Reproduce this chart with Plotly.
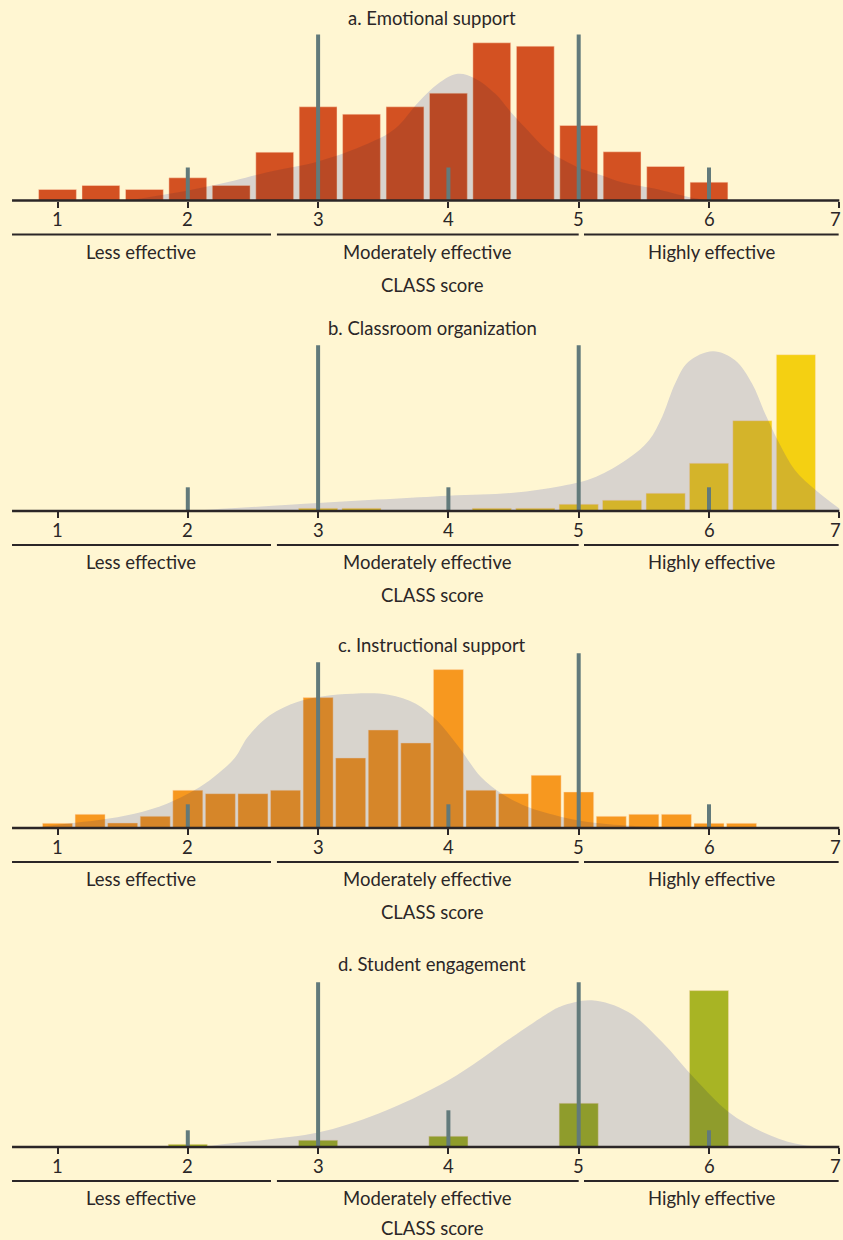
import plotly.graph_objects as go

# ---------------- data ----------------
TICK_VALUES = [1, 2, 3, 4, 5, 6, 7]
TICK_LABELS = ["1", "2", "3", "4", "5", "6", "7"]
BAND_LABELS = ["Less effective", "Moderately effective", "Highly effective"]
X_TITLE = "CLASS score"
TITLES = ["a. Emotional support", "b. Classroom organization",
          "c. Instructional support", "d. Student engagement"]

# a. Emotional support
A_BAR_X = [1.0, 1.333, 1.667, 2.0, 2.333, 2.667, 3.0, 3.333, 3.667, 4.0,
           4.333, 4.667, 5.0, 5.333, 5.667, 6.0]
A_BAR_Y = [11, 15, 11, 22.7, 15, 48.3, 93.7, 86.3, 93.7, 107.3,
           157.7, 154.3, 75, 48.7, 34, 18.3]
A_DENS_X = [1.54, 2.0, 2.36, 2.61, 3.0, 3.38, 3.59, 3.77, 3.92, 4.07, 4.2,
            4.36, 4.48, 4.61, 4.76, 4.89, 5.02, 5.18, 5.33, 5.58, 5.85, 6.0]
A_DENS_Y = [0, 10, 20, 28.3, 39, 56.7, 71.7, 98.3, 116.7, 126.7, 122.3,
            106.7, 88.3, 70, 50, 40, 31.7, 25, 18.3, 12, 3.3, 0]
A_MARK_X = [2, 3, 4, 5, 6]
A_MARK_Y = [33, 166, 33, 166, 33]

# b. Classroom organization
B_BAR_X = [3.0, 3.333, 4.333, 4.667, 5.0, 5.333, 5.667, 6.0, 6.333, 6.667]
B_BAR_Y = [2.7, 2.7, 2.7, 2.7, 6.7, 10.7, 17.7, 47.7, 90.3, 156.3]
B_DENS_X = [2.0, 3.0, 4.0, 4.5, 4.87, 5.13, 5.38, 5.54, 5.64, 5.74, 5.84,
            6.03, 6.2, 6.33, 6.43, 6.54, 6.66, 6.82, 7.0]
B_DENS_Y = [0, 8, 15.3, 18.3, 25, 34, 52.4, 70.7, 94, 127.4, 149,
            159.7, 150.7, 127.4, 97.4, 67.4, 40.7, 20.7, 2.4]
B_MARK_X = [2, 3, 4, 5, 6]
B_MARK_Y = [23.7, 165.7, 23.7, 165.7, 23.7]

# c. Instructional support
C_BAR_X = [1.0, 1.25, 1.5, 1.75, 2.0, 2.25, 2.5, 2.75, 3.0, 3.25, 3.5,
           3.75, 4.0, 4.25, 4.5, 4.75, 5.0, 5.25, 5.5, 5.75, 6.0, 6.25]
C_BAR_Y = [4.7, 13.7, 5, 11.7, 37.7, 34.3, 34.3, 37.7, 130.4, 70, 98,
           85, 158.4, 37.7, 34.3, 52.7, 36, 11.7, 13.7, 13.7, 4.7, 4.7]
C_DENS_X = [0.79, 1.07, 1.33, 1.59, 1.84, 2.05, 2.2, 2.36, 2.46, 2.63, 2.84,
            3.04, 3.27, 3.54, 3.75, 3.91, 4.08, 4.25, 4.41, 4.61, 4.82,
            5.02, 5.23, 5.59, 6.0]
C_DENS_Y = [0, 4.3, 8.3, 14.3, 24.3, 37.7, 51, 70, 91, 112.7, 126,
            131.7, 134.3, 133.3, 124.3, 107.7, 81, 51, 34.3, 21, 12.7,
            7, 3.7, 1, 0]
C_MARK_X = [2, 3, 4, 5, 6]
C_MARK_Y = [23.7, 165.7, 23.7, 174.7, 23.7]

# d. Student engagement
D_BAR_X = [2, 3, 4, 5, 6]
D_BAR_Y = [2.7, 6.7, 10.7, 43.7, 156.4]
D_DENS_X = [2.13, 2.3, 2.6, 3.0, 3.46, 4.0, 4.49, 4.78, 4.87, 5.1, 5.38,
            5.64, 5.89, 6.15, 6.41, 6.66, 6.87]
D_DENS_Y = [0, 3.3, 7.3, 14.5, 33.3, 66.7, 110, 135, 141, 146.7, 135,
            105, 68.4, 35, 15, 3.4, 0]
D_MARK_X = [2, 3, 4, 5, 6]
D_MARK_Y = [16.7, 164.7, 36.7, 164.7, 16.7]

# ---------------- style / layout ----------------
FIG_W, FIG_H = 843, 1240
BG = "#FFF6D2"
INK = "#2B2627"
MARK_COLOR = "#627A7B"
GRAY = (216, 212, 206)
FONT = "Lato"
FONT_SIZE = 18.5
BRIGHT = [(211, 81, 34), (244, 208, 18), (247, 152, 31), (168, 180, 36)]
DARK = [(185, 74, 38), (212, 180, 42), (214, 134, 42), (143, 156, 45)]
OVER_ALPHA = 0.15
BASELINE_PX = [200.5, 511, 828, 1147]
BAR_WIDTH = [0.29, 0.30, 0.23, 0.30]
Y_SPAN = 190
X_RANGE = [0.5587, 7.0284]
AXIS_SPAN = (0.651, 7.0)
BAND_SPANS = [(0.651, 2.6385), (2.684, 5.0), (5.0407, 6.995)]
BAND_LABEL_X = [1.64, 3.84, 6.02]

PANELS = [
    (A_BAR_X, A_BAR_Y, A_DENS_X, A_DENS_Y, A_MARK_X, A_MARK_Y),
    (B_BAR_X, B_BAR_Y, B_DENS_X, B_DENS_Y, B_MARK_X, B_MARK_Y),
    (C_BAR_X, C_BAR_Y, C_DENS_X, C_DENS_Y, C_MARK_X, C_MARK_Y),
    (D_BAR_X, D_BAR_Y, D_DENS_X, D_DENS_Y, D_MARK_X, D_MARK_Y),
]


def clamp(v):
    return int(max(0, min(255, round(v))))


def rgb(c, a=None):
    if a is None:
        return "rgb(%d,%d,%d)" % tuple(clamp(v) for v in c)
    return "rgba(%d,%d,%d,%.3f)" % (tuple(clamp(v) for v in c) + (a,))


def ppx(py):
    """pixel row -> paper y"""
    return 1 - py / FIG_H


def text_font():
    return dict(size=FONT_SIZE, color=INK, family=FONT)


fig = go.Figure()
layout = dict(
    width=FIG_W, height=FIG_H, margin=dict(l=0, r=0, t=0, b=0),
    paper_bgcolor=BG, plot_bgcolor=BG, showlegend=False,
    font=text_font(),
)
shapes = []
annotations = []

for i, (bx, by, dx, dy, mx, my) in enumerate(PANELS):
    xa = "x" if i == 0 else "x%d" % (i + 1)
    yb_name = "y" if i == 0 else "y%d" % (2 * i + 1)
    yo_name = "y%d" % (2 * i + 2)
    base_px = BASELINE_PX[i]
    dom = [ppx(base_px), ppx(base_px - Y_SPAN)]

    a = OVER_ALPHA
    over_c = [(DARK[i][k] - (1 - a) * BRIGHT[i][k]) / a for k in range(3)]
    base_c = [BRIGHT[i][k] + (GRAY[k] - DARK[i][k]) / (1 - a) for k in range(3)]

    # base (under-bar) density layer
    fig.add_trace(go.Scatter(
        x=dx, y=dy, xaxis=xa, yaxis=yb_name, mode="lines",
        line=dict(width=0, shape="spline", smoothing=1, color=rgb(base_c)),
        fill="tozeroy", fillcolor=rgb(base_c), hoverinfo="skip"))
    # bars
    fig.add_trace(go.Bar(
        x=bx, y=by, xaxis=xa, yaxis=yo_name, width=BAR_WIDTH[i],
        marker=dict(color=rgb(BRIGHT[i]),
                    line=dict(width=1, color="rgba(255,225,190,0.45)"))))
    # translucent density overlay (darkens bars inside the curve)
    fig.add_trace(go.Scatter(
        x=dx, y=dy, xaxis=xa, yaxis=yo_name, mode="lines",
        line=dict(width=0, shape="spline", smoothing=1),
        fill="tozeroy", fillcolor=rgb(over_c, a), hoverinfo="skip"))
    # vertical reference markers
    lx, ly = [], []
    for x, h in zip(mx, my):
        lx += [x, x, None]
        ly += [0, h, None]
    fig.add_trace(go.Scatter(
        x=lx, y=ly, xaxis=xa, yaxis=yo_name, mode="lines",
        line=dict(width=4, color=MARK_COLOR), hoverinfo="skip"))

    xkey = "xaxis" if i == 0 else "xaxis%d" % (i + 1)
    ybkey = "yaxis" if i == 0 else "yaxis%d" % (2 * i + 1)
    yokey = "yaxis%d" % (2 * i + 2)
    layout[xkey] = dict(
        domain=[0, 1], range=X_RANGE, anchor=yb_name,
        tickmode="array", tickvals=TICK_VALUES,
        ticks="outside", ticklen=6, tickwidth=2, tickcolor=INK,
        showticklabels=False,
        showline=False, showgrid=False, zeroline=False, fixedrange=True)
    layout[ybkey] = dict(domain=dom, range=[0, Y_SPAN], anchor=xa,
                         visible=False, fixedrange=True)
    layout[yokey] = dict(range=[0, Y_SPAN], anchor=xa, overlaying=yb_name,
                         visible=False, fixedrange=True)

    # tick labels (the last one is kept inside the page edge)
    for tv, tl in zip(TICK_VALUES, TICK_LABELS):
        last = tv == TICK_VALUES[-1]
        annotations.append(dict(text=tl, xref=xa, yref="paper",
                                x=X_RANGE[1] if last else tv,
                                y=ppx(base_px + 18.5), showarrow=False,
                                xanchor="right" if last else "center",
                                yanchor="middle", font=text_font()))
    # baseline
    shapes.append(dict(type="line", xref=xa, yref="paper",
                       x0=AXIS_SPAN[0], x1=AXIS_SPAN[1],
                       y0=ppx(base_px), y1=ppx(base_px),
                       line=dict(color=INK, width=2.5), layer="above"))
    # band brackets
    for (s0, s1), lab, lxp in zip(BAND_SPANS, BAND_LABELS, BAND_LABEL_X):
        shapes.append(dict(type="line", xref=xa, yref="paper", x0=s0, x1=s1,
                           y0=ppx(base_px + 34), y1=ppx(base_px + 34),
                           line=dict(color=INK, width=2), layer="above"))
        annotations.append(dict(text=lab, xref=xa, yref="paper", x=lxp,
                                y=ppx(base_px + 51), showarrow=False,
                                xanchor="center", yanchor="middle",
                                font=text_font()))
    # axis title; the bottom one is kept inside the page edge
    ty = ppx(min(base_px + 84, FIG_H - 12.5))
    annotations.append(dict(text=X_TITLE, xref="paper", yref="paper",
                            x=432 / FIG_W, y=ty, showarrow=False,
                            xanchor="center", yanchor="middle",
                            font=text_font()))
    annotations.append(dict(text=TITLES[i], xref="paper", yref="paper",
                            x=432 / FIG_W, y=ppx(base_px - 183), showarrow=False,
                            xanchor="center", yanchor="middle",
                            font=text_font()))

layout["shapes"] = shapes
layout["annotations"] = annotations
layout["bargap"] = 0
fig.update_layout(**layout)
fig.write_html(
    "out.html",
    config={"displayModeBar": False, "staticPlot": True},
    post_script="document.body.style.margin='0px';"
                "document.body.style.overflow='hidden';",
)
